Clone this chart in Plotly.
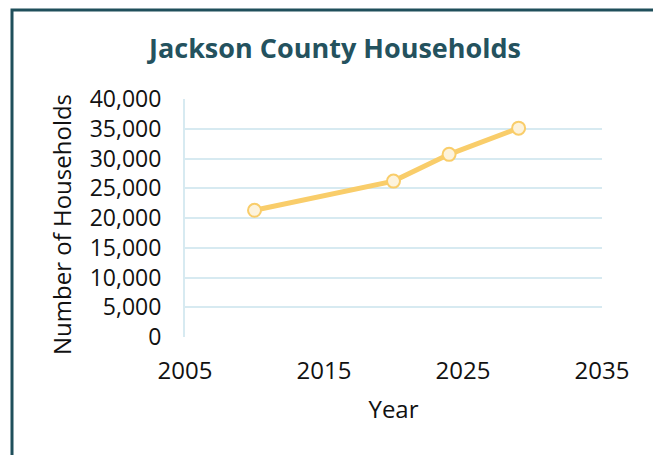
import plotly.graph_objects as go

years = [2010, 2020, 2024, 2029]
households = [21300, 26200, 30700, 35100]
x_ticks = [2005, 2015, 2025, 2035]
y_ticks = [0, 5000, 10000, 15000, 20000, 25000, 30000, 35000, 40000]

# page body adds an 8px offset; figure coordinates = screen - 8
OFF = 8
W, H = 653, 447
L = 185 - OFF
T = 99 - OFF
R = W - (602 - OFF)
B = H - (337 - OFF)
pw, ph = W - L - R, H - T - B

def px(xp):
    return (xp - OFF - L) / pw

def py(yp):
    return (H - B - (yp - OFF)) / ph

fig = go.Figure()
fig.add_trace(go.Scatter(
    x=years, y=households, mode="lines+markers",
    line=dict(color="#f9cd6a", width=5),
    marker=dict(size=13, color="#fdf3dc", line=dict(color="#f9cd6a", width=2)),
    hoverinfo="x+y", showlegend=False,
))

fig.update_layout(
    width=W, height=H,
    margin=dict(l=L, r=R, t=T, b=B, pad=0),
    paper_bgcolor="white", plot_bgcolor="white",
    font=dict(family="Open Sans", size=23, color="#111111"),
    title=dict(text="<b>Jackson County Households</b>", x=(335 - OFF) / W, xref="container",
               xanchor="center", y=1 - (49 - OFF) / H, yanchor="middle",
               font=dict(family="Open Sans", size=27, color="#24525e")),
    xaxis=dict(range=[2005, 2035], tickvals=x_ticks, showgrid=False,
               zeroline=False, showline=False, ticks="",
               ticklabelstandoff=17, tickfont=dict(size=24),
               title=dict(text="Year", standoff=16, font=dict(size=24))),
    yaxis=dict(range=[0, 40000], tickvals=y_ticks, tickformat=",d",
               showgrid=True, gridcolor="#d7eaf1", gridwidth=2,
               zeroline=False, showline=True, linecolor="#d7eaf1", linewidth=2,
               ticks="", ticklabelstandoff=17, tickfont=dict(size=23)),
    annotations=[dict(text="Number of Households", textangle=-90,
                      xref="paper", yref="paper", x=px(61), y=py(225),
                      xanchor="center", yanchor="middle", showarrow=False,
                      font=dict(family="Open Sans", size=24, color="#111111"))],
    shapes=[dict(type="rect", xref="paper", yref="paper",
                 x0=px(12), x1=px(658), y0=py(480), y1=py(10),
                 line=dict(color="#1f4f5b", width=3), fillcolor="rgba(0,0,0,0)",
                 layer="below")],
)

fig.write_html("out.html")
